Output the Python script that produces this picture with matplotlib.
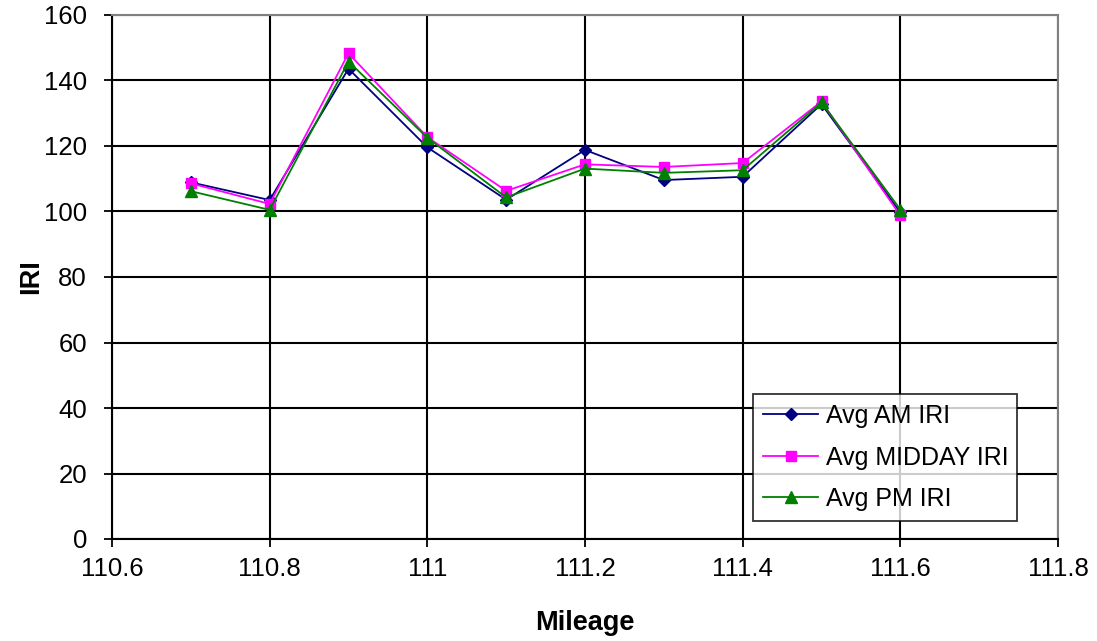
import numpy as np
import matplotlib.pyplot as plt

plt.rcParams['font.family'] = ['Liberation Sans', 'DejaVu Sans']

mileage = [110.7, 110.8, 110.9, 111.0, 111.1, 111.2, 111.3, 111.4, 111.5, 111.6]
iri_am = [108.9, 103.5, 143.6, 119.6, 103.6, 118.8, 109.6, 110.6, 132.8, 99.7]
iri_midday = [108.6, 102.3, 148.3, 122.7, 106.3, 114.4, 113.6, 114.8, 133.6, 98.8]
iri_pm = [106.2, 100.5, 145.8, 122.5, 104.3, 113.1, 111.8, 112.6, 133.3, 100.6]

fig = plt.figure(figsize=(10.97, 6.41), dpi=100)
ax = fig.add_axes([112/1097, 1 - 539/641, 946/1097, 524/641])

ax.plot(mileage, iri_am, color='#000080', marker='D', markersize=6.5, linewidth=1.3, label='Avg AM IRI')
ax.plot(mileage, iri_midday, color='#ff00ff', marker='s', markersize=7, linewidth=1.3, label='Avg MIDDAY IRI')
ax.plot(mileage, iri_pm, color='#008000', marker='^', markersize=8, linewidth=1.3, label='Avg PM IRI')

ax.set_xlim(110.6, 111.8)
ax.set_ylim(0, 160)
ax.set_xticks(np.arange(110.6, 111.81, 0.2))
ax.set_xticklabels(['110.6', '110.8', '111', '111.2', '111.4', '111.6', '111.8'])
ax.set_yticks(np.arange(0, 161, 20))
ax.grid(True, color='black', linewidth=1.5)
ax.set_axisbelow(True)

ax.tick_params(axis='both', direction='out', length=6, width=1.3, labelsize=18.5, color='black')
ax.tick_params(axis='x', pad=7)
ax.tick_params(axis='y', pad=12)
ax.spines['left'].set_color('black')
ax.spines['bottom'].set_color('black')
ax.spines['top'].set_color('#808080')
ax.spines['right'].set_color('#808080')
for s in ax.spines.values():
    s.set_linewidth(1.5)

ax.set_xlabel('Mileage', fontsize=19.5, fontweight='bold', labelpad=21)
ax.set_ylabel('IRI', fontsize=19.5, fontweight='bold', labelpad=0)

leg = ax.legend(loc='lower left', bbox_to_anchor=(0.678, 0.034, 0.279, 0.239), mode='expand',
                fontsize=18, frameon=True, fancybox=False, edgecolor='black',
                handlelength=2.2, handletextpad=0.3, borderaxespad=0, labelspacing=0.7)
leg.get_frame().set_linewidth(1.3)

plt.savefig('out.png')
